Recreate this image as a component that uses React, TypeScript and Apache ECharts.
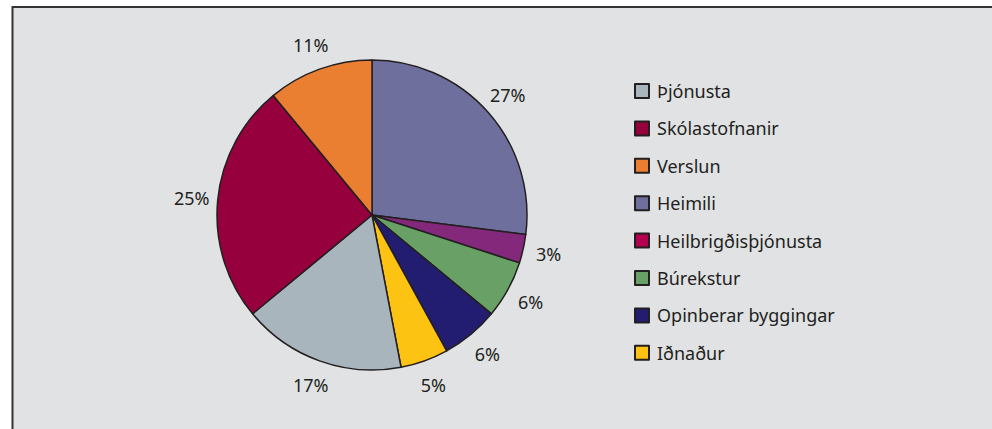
import React, { useEffect, useRef } from "react";
import * as echarts from "echarts";

const sliceNames = [
  "Heimili",
  "Heilbrigðisþjónusta",
  "Búrekstur",
  "Opinberar byggingar",
  "Iðnaður",
  "Þjónusta",
  "Skólastofnanir",
  "Verslun",
];
const sliceValues = [27, 3, 6, 6, 5, 17, 25, 11];
const sliceColors = [
  "#6f6f9d",
  "#83287a",
  "#69a066",
  "#231d71",
  "#fdc312",
  "#a8b5bd",
  "#96003c",
  "#ea7f31",
];
const legendOrder = [
  "Þjónusta",
  "Skólastofnanir",
  "Verslun",
  "Heimili",
  "Heilbrigðisþjónusta",
  "Búrekstur",
  "Opinberar byggingar",
  "Iðnaður",
];
const legendColorOverride: Record<string, string> = {
  "Heilbrigðisþjónusta": "#b3004f",
};

export default function App() {
  const ref = useRef<HTMLDivElement>(null);
  useEffect(() => {
    document.body.style.margin = "0";
    if (!ref.current) return;
    const chart = echarts.init(ref.current, undefined, { renderer: "svg" });
    const font = "'Noto Sans', sans-serif";
    const data = sliceNames.map((n, i) => ({
      name: n,
      value: sliceValues[i],
      itemStyle: { color: sliceColors[i] },
    }));
    chart.setOption({
      animation: false,
      backgroundColor: "#ffffff",
      graphic: [
        { type: "rect", shape: { x: 13, y: 8, width: 990, height: 430 }, style: { fill: "#e1e2e4" }, silent: true, z: -10 },
        { type: "line", shape: { x1: 12, y1: 7, x2: 992, y2: 7 }, style: { stroke: "#333333", lineWidth: 2 }, silent: true, z: -9 },
        { type: "line", shape: { x1: 12.5, y1: 6, x2: 12.5, y2: 429 }, style: { stroke: "#333333", lineWidth: 2 }, silent: true, z: -9 },
      ],
      legend: {
        orient: "vertical",
        left: 634,
        top: 82,
        padding: 0,
        icon: "rect",
        itemWidth: 14,
        itemHeight: 14,
        itemGap: 19.4,
        textStyle: { fontFamily: font, fontSize: 18, color: "#231f20", padding: [0, 0, 0, 3] },
        data: legendOrder.map((n) => ({
          name: n,
          itemStyle: {
            color: legendColorOverride[n] || sliceColors[sliceNames.indexOf(n)],
            borderColor: "#231f20",
            borderWidth: 2,
          },
        })),
      },
      series: [
        {
          type: "pie",
          center: [372, 215],
          radius: [0, 155],
          startAngle: 90,
          clockwise: true,
          avoidLabelOverlap: false,
          label: { show: false },
          labelLine: { show: false },
          itemStyle: { borderColor: "#231f20", borderWidth: 1.5 },
          emphasis: { disabled: true },
          data,
        },
        {
          type: "pie",
          center: [372, 215],
          radius: [153, 203],
          startAngle: 90,
          clockwise: true,
          silent: true,
          avoidLabelOverlap: false,
          label: {
            show: true,
            position: "inside",
            formatter: "{c}%",
            fontFamily: font,
            fontSize: 18,
            color: "#231f20",
          },
          labelLine: { show: false },
          itemStyle: { color: "rgba(0,0,0,0)", borderWidth: 0 },
          emphasis: { disabled: true },
          data: sliceNames.map((n, i) => ({ name: n, value: sliceValues[i] })),
        },
      ],
    });
    return () => chart.dispose();
  }, []);
  return <div ref={ref} style={{ width: 992, height: 429 }} />;
}
